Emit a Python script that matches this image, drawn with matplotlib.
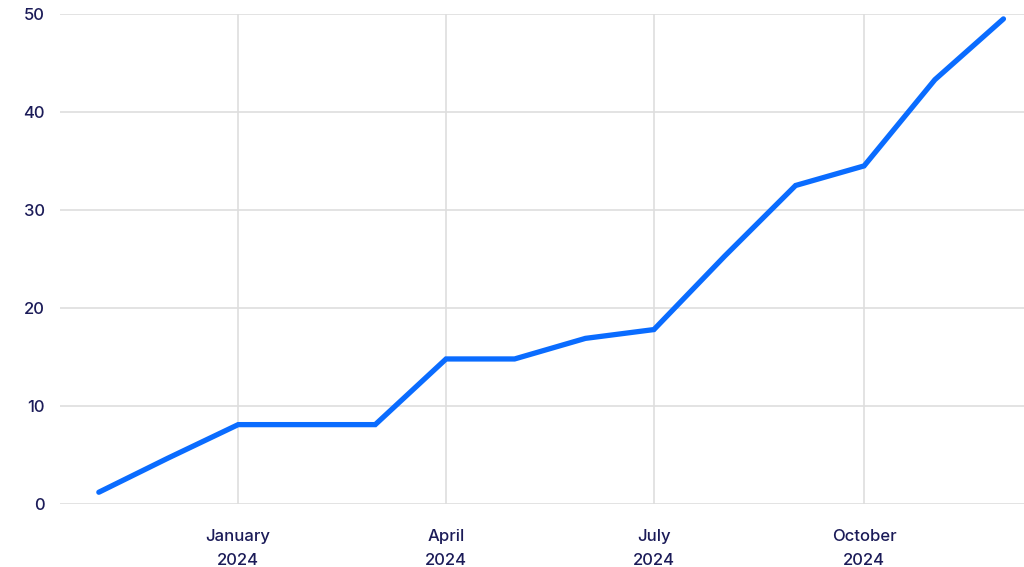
import matplotlib
matplotlib.use("Agg")
import matplotlib.pyplot as plt
from datetime import datetime

months = ["2023-11-01", "2023-12-01", "2024-01-01", "2024-02-01", "2024-03-01",
          "2024-04-01", "2024-05-01", "2024-06-01", "2024-07-01", "2024-08-01",
          "2024-09-01", "2024-10-01", "2024-11-01", "2024-12-01"]
values = [1.2, 4.65, 8.1, 8.1, 8.1, 14.8, 14.8, 16.9, 17.8, 25.3, 32.5, 34.5, 43.3, 49.5]
xtick_dates = ["2024-01-01", "2024-04-01", "2024-07-01", "2024-10-01"]
xtick_labels = ["January\n2024", "April\n2024", "July\n2024", "October\n2024"]
ytick_values = [0, 10, 20, 30, 40, 50]

dates = [datetime.strptime(d, "%Y-%m-%d") for d in months]
tdates = [datetime.strptime(d, "%Y-%m-%d") for d in xtick_dates]

plt.rcParams['font.family'] = ['Inter', 'DejaVu Sans']
text_color = "#1b1b58"
grid_color = "#dedede"

fig = plt.figure(figsize=(10.24, 5.67), dpi=100)
ax = fig.add_axes([60/1024, 1-504/567, 1-60/1024, (504-14)/567])

ax.plot(dates, values, color="#0a6cff", linewidth=3.8, solid_capstyle="round",
        solid_joinstyle="miter", zorder=3)

ax.set_ylim(0, 50)
ax.set_xlim(datetime(2023, 10, 15), datetime(2024, 12, 10))
ax.set_yticks(ytick_values)
ax.set_xticks(tdates)
ax.set_xticklabels(xtick_labels, linespacing=1.75)

for s in ax.spines.values():
    s.set_visible(False)
ax.grid(True, color=grid_color, linewidth=1.2, zorder=0)
ax.set_axisbelow(True)
ax.tick_params(axis="both", length=0, labelsize=12, colors=text_color)
for lab in ax.get_xticklabels() + ax.get_yticklabels():
    lab.set_fontweight("medium")
ax.tick_params(axis="y", pad=11)
ax.tick_params(axis="x", pad=18)
ax.patch.set_visible(False)

fig.savefig("out.png", dpi=100)
